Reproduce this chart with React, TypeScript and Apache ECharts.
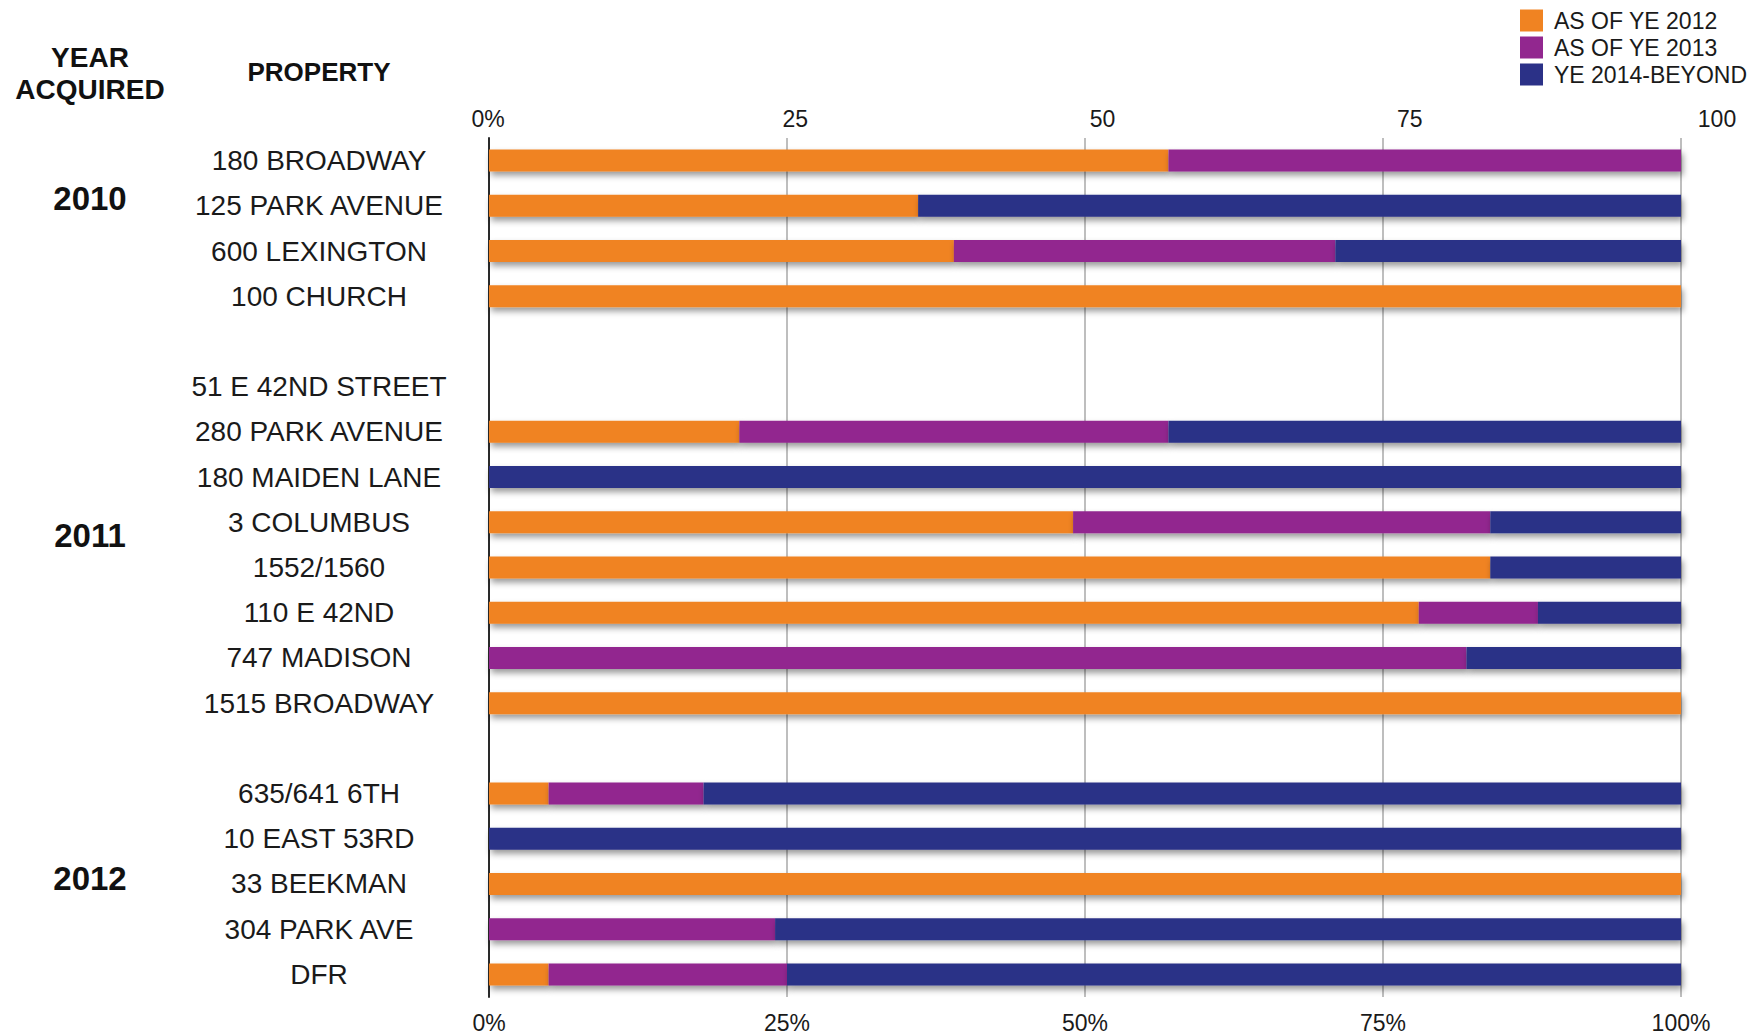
import React, { useEffect, useRef } from "react";
import * as echarts from "echarts";

const properties = [
  "180 BROADWAY", "125 PARK AVENUE", "600 LEXINGTON", "100 CHURCH", " ",
  "51 E 42ND STREET", "280 PARK AVENUE", "180 MAIDEN LANE", "3 COLUMBUS", "1552/1560",
  "110 E 42ND", "747 MADISON", "1515 BROADWAY", "  ",
  "635/641 6TH", "10 EAST 53RD", "33 BEEKMAN", "304 PARK AVE", "DFR",
];
const seriesNames = ["AS OF YE 2012", "AS OF YE 2013", "YE 2014-BEYOND"];
const ye2012 = [57, 36, 39, 100, null, null, 21, null, 49, 84, 78, null, 100, null, 5, null, 100, null, 5];
const ye2013 = [43, null, 32, null, null, null, 36, null, 35, null, 10, 82, null, null, 13, null, null, 24, 20];
const ye2014 = [null, 64, 29, null, null, null, 43, 100, 16, 16, 12, 18, null, null, 82, 100, null, 76, 75];
const colors = ["#F08322", "#92278F", "#2B3187"];
const topTicks = ["0%", "25", "50", "75", "100"];
const bottomTicks = ["0%", "25%", "50%", "75%", "100%"];
const years = ["2010", "2011", "2012"];

const FONT = "'Liberation Sans', Arial, sans-serif";

export default function App() {
  const ref = useRef<HTMLDivElement>(null);
  useEffect(() => {
    if (!ref.current) return;
    const chart = echarts.init(ref.current, null, { renderer: "svg" });
    const values = [ye2012, ye2013, ye2014];
    const shadow = {
      shadowColor: "rgba(0,0,0,0.4)",
      shadowBlur: 6,
      shadowOffsetX: 2,
      shadowOffsetY: 4,
    };
    chart.setOption({
      animation: false,
      backgroundColor: "#ffffff",
      textStyle: { fontFamily: FONT, color: "#1a1a1a" },
      legend: {
        orient: "vertical",
        left: 1515,
        top: 4,
        itemWidth: 23,
        itemHeight: 22,
        itemGap: 4,
        icon: "rect",
        data: seriesNames,
        textStyle: { fontSize: 23, color: "#1a1a1a", fontFamily: FONT, padding: [0, 0, 0, 6] },
      },
      grid: [
        { left: 489, right: 79, top: 138, bottom: 37 },
        { left: 488, width: 1229, top: 138, height: 10 },
      ],
      xAxis: [
        {
          type: "value",
          gridIndex: 0,
          position: "bottom",
          min: 0,
          max: 100,
          interval: 25,
          axisLine: { show: false },
          axisTick: { show: false },
          splitLine: { show: true, lineStyle: { color: "#a8a8a8", width: 1.5 } },
          axisLabel: {
            margin: 14,
            fontSize: 23,
            color: "#1a1a1a",
            fontFamily: FONT,
            formatter: (v: number) => bottomTicks[Math.round(v / 25)] ?? "",
          },
        },
        {
          type: "value",
          gridIndex: 1,
          position: "top",
          min: 0,
          max: 100,
          interval: 25,
          axisLine: { show: false },
          axisTick: { show: false },
          splitLine: { show: false },
          axisLabel: {
            margin: 8,
            fontSize: 23,
            color: "#1a1a1a",
            fontFamily: FONT,
            formatter: (v: number) => topTicks[Math.round(v / 25)] ?? "",
          },
        },
      ],
      yAxis: [
        {
          type: "category",
          gridIndex: 0,
          data: properties,
          inverse: true,
          axisLine: { show: true, lineStyle: { color: "#2a2a2a", width: 2 } },
          axisTick: { show: false },
          splitLine: { show: false },
          axisLabel: {
            align: "center",
            margin: 170,
            fontSize: 28,
            color: "#1a1a1a",
            fontFamily: FONT,
            interval: 0,
          },
        },
        { type: "value", gridIndex: 1, show: false },
      ],
      series: seriesNames.map((name, i) => ({
        name,
        type: "bar",
        stack: "total",
        xAxisIndex: 0,
        yAxisIndex: 0,
        barWidth: 22,
        data: values[i],
        itemStyle: { color: colors[i], ...shadow },
      })),
      graphic: [
        {
          type: "text",
          left: 15,
          top: 41,
          style: {
            text: "YEAR\nACQUIRED",
            font: `bold 28px ${FONT}`,
            fill: "#111",
            textAlign: "center",
            lineHeight: 32,
            width: 150,
          },
        },
        {
          type: "text",
          x: 319,
          y: 72,
          style: {
            text: "PROPERTY",
            font: `bold 26px ${FONT}`,
            fill: "#111",
            textAlign: "center",
            textVerticalAlign: "middle",
          },
        },
        ...years.map((yr, i) => ({
          type: "text",
          x: 90,
          y: [198, 535, 878][i],
          style: {
            text: yr,
            font: `bold 33px ${FONT}`,
            fill: "#111",
            textAlign: "center",
            textVerticalAlign: "middle",
          },
        })),
      ],
    });
    return () => chart.dispose();
  }, []);
  return (
    <div
      ref={ref}
      style={{ position: "fixed", left: 0, top: 0, width: 1760, height: 1034 }}
    />
  );
}
